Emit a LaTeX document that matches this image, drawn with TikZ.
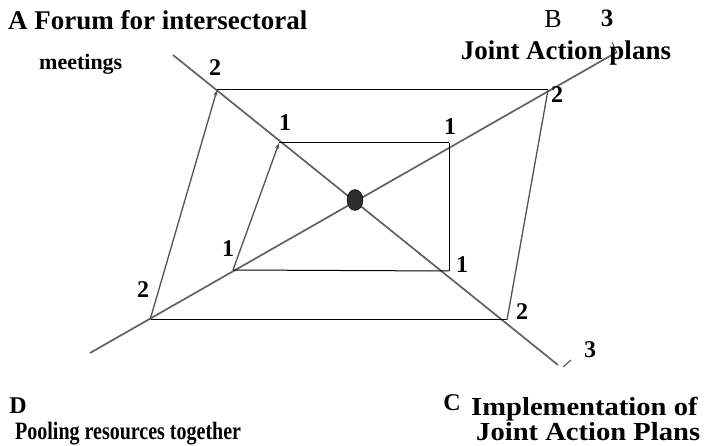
\documentclass[tikz,border=0pt]{standalone}
\usepackage{fontspec}
\setmainfont{Liberation Serif}
\newfontfamily\narrowfont[FakeStretch=0.8]{Liberation Serif}
\newfontfamily\widefont[FakeStretch=1.1]{Liberation Serif}
\usetikzlibrary{arrows.meta,shapes.geometric}
\tikzset{
  diag/.style={draw=black!62, line width=1.7pt},
  slant/.style={draw=black!68, line width=1.3pt},
  flat/.style={draw=black, line width=1pt},
  uptip/.style={-{Stealth[length=6pt,width=4pt]}},
  hub/.style={ellipse, fill=black!82, draw=black, minimum width=16pt, minimum height=21pt, inner sep=0pt},
  tag/.style={inner sep=0pt, font=\bfseries\fontsize{25}{28}\selectfont},
  num/.style={inner sep=0pt, anchor=base, font=\bfseries\fontsize{24}{28}\selectfont},
}
\begin{document}
\begin{tikzpicture}[x=1pt, y=-1pt]
  \useasboundingbox (0,0) rectangle (715,446);
  % axes
  \coordinate (nw) at (173,55);  \coordinate (se) at (558,365);
  \coordinate (sw) at (90,353);  \coordinate (ne) at (617,52);
  % outer ring
  \coordinate (otl) at (217,90);  \coordinate (otr) at (548,90);
  \coordinate (obr) at (507,320); \coordinate (obl) at (150,320);
  % inner ring
  \coordinate (itl) at (279,143); \coordinate (itr) at (449,143);
  \coordinate (ibr) at (449,271); \coordinate (ibl) at (233,270);

  \draw[diag] (nw) -- (se);
  \draw[diag] (sw) -- (ne);
  \draw[line width=1pt, draw=black!70] (563,367) -- (571,360);
  \draw[line width=1pt, draw=black!70] (612,42) -- (617,53);

  \draw[flat] (otl) -- (otr);  \draw[flat] (obl) -- (obr);
  \draw[slant, uptip] (obl) -- (otl);  \draw[slant] (otr) -- (obr);
  \draw[flat] (itl) -- (itr);  \draw[flat] (ibl) -- (ibr);
  \draw[slant, uptip] (ibl) -- (itl);  \draw[flat] (itr) -- (ibr);

  \node[hub] (core) at (355,200) {};

  \node[num] (n2tl) at (215,76)  {2};
  \node[num] (n1tl) at (285,131) {1};
  \node[num] (n1tr) at (450,135) {1};
  \node[num] (n2tr) at (557,103) {2};
  \node[num] (n1bl) at (228,257) {1};
  \node[num] (n2bl) at (143,298) {2};
  \node[num] (n1br) at (462,273) {1};
  \node[num] (n2br) at (522,320) {2};
  \node[num] (n3br) at (590,358) {3};

  \node[tag, anchor=base west, font=\bfseries\fontsize{27}{28}\selectfont] (forum) at (8,30) {A Forum for intersectoral};
  \node[tag, anchor=base west, font=\bfseries\fontsize{22}{28}\selectfont] (meet) at (39,70) {meetings};
  \node[num, font=\fontsize{26}{28}\selectfont] (labB) at (553,28) {B};
  \node[num, font=\bfseries\fontsize{25}{28}\selectfont] (n3tr) at (607,27) {3};
  \node[tag, anchor=base, font=\bfseries\fontsize{27}{28}\selectfont] (plans) at (566,60) {Joint Action plans};

  \node[num] (labD) at (18,413) {D};
  \node[num] (labC) at (452,410) {C};
  \node[tag, anchor=base west, font=\widefont\bfseries\fontsize{26}{28}\selectfont] (impl) at (471,415) {Implementation of};
  \node[tag, anchor=base west, font=\widefont\bfseries\fontsize{26}{28}\selectfont] (jplans) at (476,440) {Joint Action Plans};
  \node[tag, anchor=base west, font=\narrowfont\bfseries\fontsize{25}{28}\selectfont] (pool) at (15,439) {Pooling resources together};
\end{tikzpicture}
\end{document}
